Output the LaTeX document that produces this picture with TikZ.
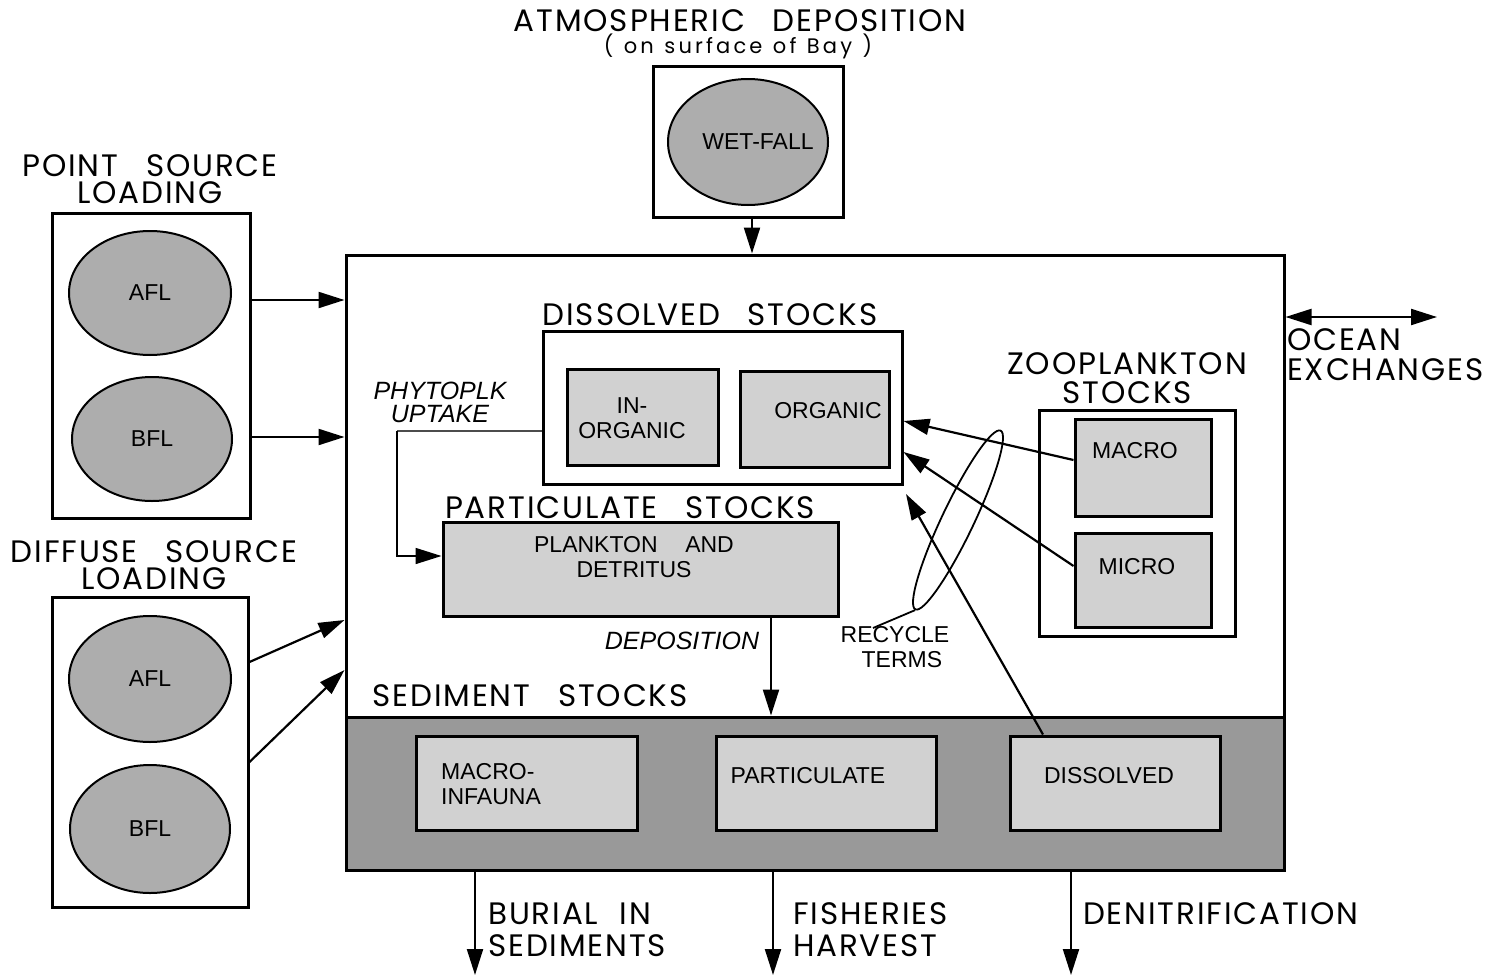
\documentclass[tikz,border=0pt]{standalone}
\usepackage{fontspec}
\setmainfont{Liberation Sans}
\newfontfamily\ttlfont[LetterSpace=6]{Poppins}
\newfontfamily\subfont[LetterSpace=15]{Poppins}
\usetikzlibrary{shapes.geometric,arrows.meta}
\definecolor{blobfill}{gray}{0.68}
\definecolor{cellfill}{gray}{0.82}
\definecolor{sedfill}{gray}{0.60}
\begin{document}
\begin{tikzpicture}[x=1pt,y=-1pt,
  ttl/.style={font=\ttlfont\fontsize{31}{27}\selectfont, align=center, inner sep=0pt},
  sub/.style={font=\subfont\fontsize{21}{21}\selectfont, inner sep=0pt},
  inl/.style={font=\fontsize{23}{25}\selectfont, align=center, inner sep=0pt},
  itl/.style={font=\itshape\fontsize{25}{23}\selectfont, align=center, inner sep=0pt},
  obox/.style={draw, line width=3pt, fill=white, inner sep=0pt},
  cell/.style={draw, line width=3pt, fill=cellfill, inner sep=0pt},
  blob/.style={draw, line width=2pt, ellipse, fill=blobfill, inner sep=0pt, font=\fontsize{23}{25}\selectfont},
  tip/.tip={Triangle[length=26pt,width=16pt]},
  arr/.style={line width=2.2pt, -tip},
  darr/.style={line width=2.2pt, tip-tip},
  thinarr/.style={line width=1.6pt, -{Triangle[length=26pt,width=16pt]}},
]
\useasboundingbox (0,0) rectangle (1502,977);

% ---------- atmospheric deposition ----------
\node[ttl] (atm) at (740,21) {ATMOSPHERIC\hspace{0.9em}DEPOSITION};
\node[sub] (atmsub) at (738,46) {(\hspace{0.5em}on\hspace{0.5em}surface\hspace{0.5em}of\hspace{0.5em}Bay\hspace{0.5em})};
\node[obox, minimum width=190pt, minimum height=151pt] (wetbox) at (748,141.5) {};
\node[blob, minimum width=160pt, minimum height=126pt] (wet) at (748,142) {};
\node[inl] (wetT) at (758,142) {WET-FALL};

% ---------- main box ----------
\node[obox, minimum width=938pt, minimum height=615pt] (main) at (815,562.5) {};
\node[draw, line width=3pt, fill=sedfill, minimum width=938pt, minimum height=153pt, inner sep=0pt] (sed) at (815,793.5) {};
\coordinate (wx) at (752,230);
\draw[arr] (wetbox.south -| wx) -- (main.north -| wx);

% ---------- point source ----------
\node[ttl] (pstitle) at (150,179) {POINT\hspace{0.9em}SOURCE\\LOADING};
\node[obox, minimum width=198pt, minimum height=305pt] (psbox) at (151,365.5) {};
\node[blob, minimum width=162pt, minimum height=124pt] (afl1) at (150,293) {AFL};
\node[blob, minimum width=160pt, minimum height=124pt] (bfl1) at (152,439) {BFL};
\draw[arr] (psbox.east |- 0,300) -- (main.west |- 0,300);
\draw[arr] (psbox.east |- 0,437) -- (main.west |- 0,437);

% ---------- diffuse source ----------
\node[ttl] (dftitle) at (154,565) {DIFFUSE\hspace{0.9em}SOURCE\\LOADING};
\node[obox, minimum width=196pt, minimum height=310pt] (dfbox) at (150,752) {};
\node[blob, minimum width=162pt, minimum height=126pt] (afl2) at (150,679) {AFL};
\node[blob, minimum width=160pt, minimum height=128pt] (bfl2) at (150,829) {BFL};
\draw[arr] (dfbox.east |- 0,662) -- (main.west |- 0,620);
\draw[arr] (dfbox.east |- 0,762) -- (main.west |- 0,670);

% ---------- dissolved stocks ----------
\node[ttl] (distitle) at (710,315) {DISSOLVED\hspace{0.9em}STOCKS};
\node[obox, minimum width=359pt, minimum height=153pt] (disbox) at (722.5,407.5) {};
\node[cell, minimum width=151pt, minimum height=96pt] (inorg) at (642.5,417) {};
\node[inl] (inorgT) at (632,418) {IN-\\ORGANIC};
\node[cell, minimum width=149pt, minimum height=96pt] (org) at (814.5,419) {};
\node[inl] (orgT) at (828,411) {ORGANIC};

% ---------- particulate stocks ----------
\node[ttl] (pttitle) at (630,508) {PARTICULATE\hspace{0.9em}STOCKS};
\node[cell, minimum width=395pt, minimum height=94pt] (plank) at (640.5,569) {};
\node[inl] (plankT) at (634,557) {PLANKTON\hspace{1.2em}AND\\DETRITUS};

% phytoplankton uptake
\node[itl] (upT) at (440,402) {PHYTOPLK\\UPTAKE};
\coordinate (up1) at (397,431);
\draw[line width=1.6pt, black!70] (disbox.west |- up1) -- (up1);
\draw[thinarr] (up1) |- (plank.west |- 0,556);

% deposition
\node[itl] (depT) at (682,641) {DEPOSITION};
\coordinate (dx) at (771,650);
\draw[arr] (plank.south -| dx) -- (sed.north -| dx);

% ---------- sediment stocks ----------
\node[ttl] (sedtitle) at (530,696) {SEDIMENT\hspace{0.9em}STOCKS};
\node[cell, minimum width=221pt, minimum height=94pt] (minf) at (526.5,783) {};
\node[inl, align=left, anchor=west] (minfT) at (441,784) {MACRO-\\INFAUNA};
\node[cell, minimum width=220pt, minimum height=94pt] (spart) at (826,783) {};
\node[inl] (spartT) at (808,776) {PARTICULATE};
\node[cell, minimum width=210pt, minimum height=94pt] (sdis) at (1115,783) {};
\node[inl] (sdisT) at (1109,776) {DISSOLVED};

% outflows
\coordinate (b1) at (475,975);
\coordinate (b2) at (773,975);
\coordinate (b3) at (1071,975);
\draw[arr] (sed.south -| b1) -- (b1);
\draw[arr] (sed.south -| b2) -- (b2);
\draw[arr] (sed.south -| b3) -- (b3);
\node[ttl, align=left, anchor=west, font=\ttlfont\fontsize{31}{32}\selectfont] (burT) at (488,930) {BURIAL\hspace{0.7em}IN\\SEDIMENTS};
\node[ttl, align=left, anchor=west, font=\ttlfont\fontsize{31}{32}\selectfont] (fisT) at (793,930) {FISHERIES\\HARVEST};
\node[ttl, anchor=west] (denT) at (1083,914) {DENITRIFICATION};

% ---------- zooplankton ----------
\node[ttl, font=\ttlfont\fontsize{31}{29}\selectfont] (zootitle) at (1127,378) {ZOOPLANKTON\\STOCKS};
\node[obox, minimum width=196pt, minimum height=226pt] (zbox) at (1137,523) {};
\node[cell, minimum width=136pt, minimum height=97pt] (macro) at (1143,467.5) {};
\node[inl] (macroT) at (1135,451) {MACRO};
\node[cell, minimum width=136pt, minimum height=94pt] (micro) at (1143,580) {};
\node[inl] (microT) at (1137,567) {MICRO};

% recycle arrows
\coordinate (rc3) at (906,494);
\draw[arr] (macro.west |- 0,460) -- (disbox.east |- 0,421);
\draw[arr] (micro.west |- 0,566) -- (disbox.east |- 0,452);
\draw[arr] (sdis.north -| 1043,0) -- (rc3);
\node[draw, ellipse, line width=1.8pt, minimum width=198pt, minimum height=32pt, inner sep=0pt, rotate=64.5] (recyc) at (958,520) {};
\node[inl] (recT) at (895,647) {RECYCLE\\\hspace{0.6em}TERMS};
\coordinate (rl) at (873,628);
\draw[line width=1.8pt] (recyc.west) -- (rl);

% ---------- ocean exchanges ----------
\coordinate (oc) at (1437,317);
\draw[darr] (main.east |- oc) -- (oc);
\node[ttl, align=left, anchor=west, font=\ttlfont\fontsize{31}{30}\selectfont] (ocT) at (1287,355) {OCEAN\\EXCHANGES};
\end{tikzpicture}
\end{document}
